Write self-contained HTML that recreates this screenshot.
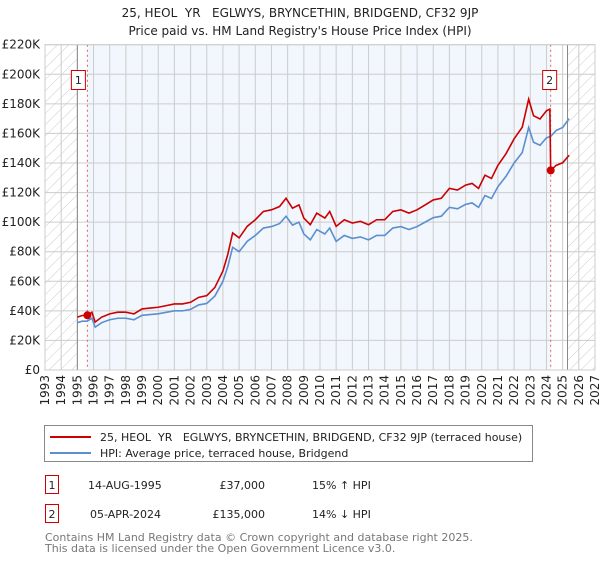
<!DOCTYPE html>
<html><head><meta charset="utf-8"><style>
body{margin:0;background:#fff;font-family:"DejaVu Sans","Liberation Sans",sans-serif;}
svg text{font-family:"DejaVu Sans","Liberation Sans",sans-serif;white-space:pre;}
</style></head><body>
<svg width="600" height="560" xmlns="http://www.w3.org/2000/svg" xml:space="preserve">
<defs><pattern id="hatch" patternUnits="userSpaceOnUse" width="8" height="8" patternTransform="rotate(45)"><line x1="0" y1="0" x2="0" y2="8" stroke="#ccc" stroke-width="1"/></pattern></defs>
<text x="300" y="17" text-anchor="middle" font-size="12" fill="#222">25, HEOL  YR   EGLWYS, BRYNCETHIN, BRIDGEND, CF32 9JP</text>
<text x="300" y="35" text-anchor="middle" font-size="12" fill="#222">Price paid vs. HM Land Registry's House Price Index (HPI)</text>
<g id="plot"></g>
<g>
<rect x="44.5" y="425.5" width="488" height="36" fill="#fff" stroke="#888"/>
<line x1="50" y1="437" x2="91" y2="437" stroke="#cc0000" stroke-width="2"/>
<text x="100" y="441" font-size="11" fill="#222">25, HEOL  YR   EGLWYS, BRYNCETHIN, BRIDGEND, CF32 9JP (terraced house)</text>
<line x1="50" y1="453" x2="91" y2="453" stroke="#5b8fd0" stroke-width="2"/>
<text x="100" y="457" font-size="11" fill="#222">HPI: Average price, terraced house, Bridgend</text>
</g>
<g font-size="11" fill="#222">
<rect x="45.5" y="475.5" width="13" height="18" fill="#fff" stroke="#cc0000"/><text x="52" y="489" text-anchor="middle">1</text>
<text x="88" y="489">14-AUG-1995</text><text x="265" y="489" text-anchor="end">£37,000</text><text x="312" y="489">15% ↑ HPI</text>
<rect x="45.5" y="504.5" width="13" height="18" fill="#fff" stroke="#cc0000"/><text x="52" y="518" text-anchor="middle">2</text>
<text x="90" y="518">05-APR-2024</text><text x="265" y="518" text-anchor="end">£135,000</text><text x="312" y="518">14% ↓ HPI</text>
</g>
<text x="45" y="541" font-size="11" fill="#777">Contains HM Land Registry data © Crown copyright and database right 2025.</text>
<text x="45" y="552" font-size="11" fill="#777">This data is licensed under the Open Government Licence v3.0.</text>
</svg>
<script>
const yearTicks=[1993,1994,1995,1996,1997,1998,1999,2000,2001,2002,2003,2004,2005,2006,2007,2008,2009,2010,2011,2012,2013,2014,2015,2016,2017,2018,2019,2020,2021,2022,2023,2024,2025,2026,2027];
const priceTicks=[0,20,40,60,80,100,120,140,160,180,200,220];
const hpiYears=[1995.0,1995.3,1995.6,1995.9,1996.1,1996.5,1997.0,1997.5,1998.0,1998.5,1999.0,1999.5,2000.0,2000.5,2001.0,2001.5,2002.0,2002.5,2003.0,2003.5,2004.0,2004.3,2004.6,2005.0,2005.5,2006.0,2006.5,2007.0,2007.5,2007.9,2008.3,2008.7,2009.0,2009.4,2009.8,2010.3,2010.6,2011.0,2011.5,2012.0,2012.5,2013.0,2013.5,2014.0,2014.5,2015.0,2015.5,2016.0,2016.5,2017.0,2017.5,2018.0,2018.5,2019.0,2019.4,2019.8,2020.2,2020.6,2021.0,2021.5,2022.0,2022.5,2022.9,2023.2,2023.6,2024.0,2024.26,2024.6,2025.0,2025.4];
const hpiValues=[32,33,33,35,29,32,34,35,35,34,37,37.5,38,39,40,40,41,44,45,50,60,70,83,80,87,91,96,97,99,104,98,100,92,88,95,92,96,87,91,89,90,88,91,91,96,97,95,97,100,103,104,110,109,112,113,110,118,116,124,131,140,147,164,154,152,157,158,162,164,170];
const sale1=[1995.62,37];
const sale2=[2024.26,135];
const X0=45,X1=595,Y0=370,Y1=44.7;
const xs=y=>X0+(y-1993)/(2027-1993)*(X1-X0);
const ys=v=>Y0-v/220*(Y0-Y1);
const NS="http://www.w3.org/2000/svg";
const g=document.getElementById('plot');
function mk(t,a,p){const e=document.createElementNS(NS,t);for(const k in a)e.setAttribute(k,a[k]);(p||g).appendChild(e);return e;}
let e;
e=mk('rect',{x:X0,y:Y1,width:xs(1995)-X0,height:Y0-Y1,fill:'url(#hatch)'});


e=mk('rect',{x:xs(sale1[0]),y:Y1,width:xs(sale2[0])-xs(sale1[0]),height:Y0-Y1,fill:'#f2f6fd'});


e=mk('rect',{x:xs(2025.3),y:Y1,width:X1-xs(2025.3),height:Y0-Y1,fill:'url(#hatch)'});


yearTicks.forEach(y=>{
 e=mk('line',{x1:xs(y),x2:xs(y),y1:Y1,y2:Y0,stroke:'#ccc'});
 
 
 const x=xs(y)+4;
 e=mk('text',{x:x,y:375,transform:`rotate(-90 ${x} 375)`,'text-anchor':'end','font-size':12,fill:'#222'});
 e.textContent=y;
 
 
});
priceTicks.forEach(v=>{
 e=mk('line',{x1:X0,x2:X1,y1:ys(v),y2:ys(v),stroke:'#ccc'});
 
 
 e=mk('text',{x:40,y:ys(v)+4,'text-anchor':'end','font-size':12,fill:'#222'});
 e.textContent=v===0?'£0':'£'+v+'K';
 
 
});
e=mk('line',{x1:xs(1995),x2:xs(1995),y1:Y1,y2:Y0,stroke:'#888'});


e=mk('line',{x1:xs(2025.3),x2:xs(2025.3),y1:Y1,y2:Y0,stroke:'#888'});


[sale1,sale2].forEach((s,i)=>{
 e=mk('line',{x1:xs(s[0]),x2:xs(s[0]),y1:Y1,y2:Y0,stroke:'#e06060','stroke-dasharray':'2,3'});
 
 
});
e=mk('polyline',{points:hpiYears.map((y,i)=>xs(y)+','+ys(hpiValues[i])).join(' '),fill:'none',stroke:'#5b8fd0','stroke-width':1.6});


const hpiAt=t=>{for(let i=1;i<hpiYears.length;i++){if(t<=hpiYears[i]){const f=(t-hpiYears[i-1])/(hpiYears[i]-hpiYears[i-1]);return hpiValues[i-1]+f*(hpiValues[i]-hpiValues[i-1]);}}return hpiValues[hpiValues.length-1];};
const r1=sale1[1]/hpiAt(sale1[0]),r2=sale2[1]/hpiAt(sale2[0]);
const pts=[];
hpiYears.forEach((y,i)=>{if(y<sale2[0])pts.push([y,hpiValues[i]*r1]);});
pts.push([sale2[0]-0.05,hpiAt(sale2[0])*r1]);
hpiYears.forEach((y,i)=>{if(y>=sale2[0])pts.push([y,hpiValues[i]*r2]);});
e=mk('polyline',{points:pts.map(p=>xs(p[0])+','+ys(p[1])).join(' '),fill:'none',stroke:'#cc0000','stroke-width':1.6});


[sale1,sale2].forEach((s,i)=>{
 e=mk('circle',{cx:xs(s[0]),cy:ys(s[1]),r:4,fill:'#cc0000'});
 
 
 const bx=xs(s[0])-(i===0?16:8);
 e=mk('rect',{x:bx,y:70.5,width:14,height:19,fill:'#fff',stroke:'#cc0000'});
 
 
 e=mk('text',{x:bx+7,y:84,'text-anchor':'middle','font-size':11,fill:'#222'});
 e.textContent=String(i+1);
 
 
});
e=mk('rect',{x:X0,y:Y1,width:X1-X0,height:Y0-Y1,fill:'none',stroke:'#ccc'});


</script>
</body></html>
